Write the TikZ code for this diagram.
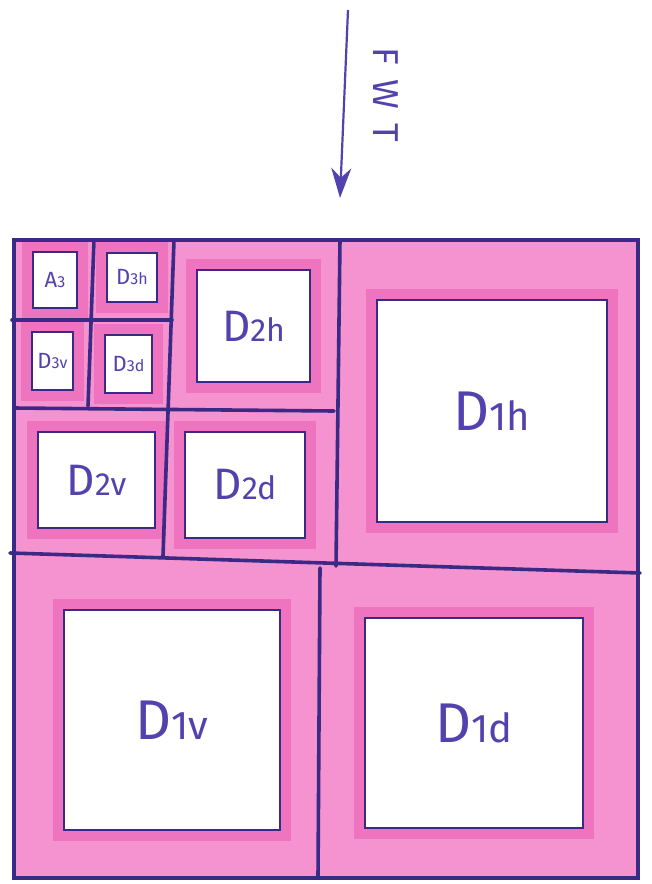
\documentclass[tikz,border=0pt]{standalone}
\usepackage{fontspec}
\setmainfont{Fira Sans}
\usepackage{xcolor}
\usetikzlibrary{arrows.meta}
\definecolor{ink}{HTML}{3A2A86}
\definecolor{pen}{HTML}{5242AE}
\definecolor{marker}{HTML}{F592D0}
\definecolor{darkmarker}{HTML}{EE74BF}

\begin{document}
\begin{tikzpicture}[x=1pt, y=-1pt,
  grid/.style={draw=ink, line width=3.6pt, line cap=round},
  coef/.style={draw=ink, fill=white, line width=2.8pt, inner sep=0pt, text=pen,
    preaction={draw=darkmarker, line width=22pt, rounded corners=6pt}},
  big/.style={coef, font=\fontsize{56}{60}\selectfont},
  mid/.style={coef, font=\fontsize{44}{48}\selectfont},
  tiny/.style={coef, font=\fontsize{22}{24}\selectfont},
  arr/.style={-{Stealth[length=30pt, width=20pt]}, draw=pen, line width=2.2pt}
]
\useasboundingbox (0,0) rectangle (651,884);

% whole image plane
\fill[marker] (14,240) rectangle (638,878);

% level 1
\node[big, minimum width=230pt, minimum height=222pt] (d1h) at (492,411) {D{\fontsize{40}{44}\selectfont 1h}};
\node[big, minimum width=216pt, minimum height=220pt] (d1v) at (172,720) {D{\fontsize{40}{44}\selectfont 1v}};
\node[big, minimum width=218pt, minimum height=210pt] (d1d) at (474,723) {D{\fontsize{40}{44}\selectfont 1d}};

% level 2
\node[mid, minimum width=113pt, minimum height=112pt] (d2h) at (253.5,326) {D{\fontsize{32}{34}\selectfont 2h}};
\node[mid, minimum width=117pt, minimum height=96pt] (d2v) at (96.5,480) {D{\fontsize{32}{34}\selectfont 2v}};
\node[mid, minimum width=120pt, minimum height=106pt] (d2d) at (245,485) {D{\fontsize{32}{34}\selectfont 2d}};

% level 3
\node[tiny, minimum width=44pt, minimum height=56pt] (a3) at (55,280) {A{\fontsize{16}{18}\selectfont 3}};
\node[tiny, minimum width=50pt, minimum height=49pt] (d3h) at (132,277.5) {D{\fontsize{16}{18}\selectfont 3h}};
\node[tiny, minimum width=41pt, minimum height=58pt] (d3v) at (52.5,361) {D{\fontsize{16}{18}\selectfont 3v}};
\node[tiny, minimum width=47pt, minimum height=58pt] (d3d) at (128.5,364) {D{\fontsize{16}{18}\selectfont 3d}};

% quadrant borders
\draw[grid] (14,240) rectangle (638,878);
\draw[grid] (10,553) -- (640,573);
\draw[grid] (340,240) -- (336,566);
\draw[grid] (320,568) -- (318,878);
\draw[grid] (14,408) -- (334,411);
\draw[grid] (174,240) -- (163,556);
\draw[grid] (12,320) -- (172,320);
\draw[grid] (94,240) -- (88,406);

% transform arrow
\coordinate (fwtstart) at (348,10);
\coordinate (fwtend) at (340,198);
\draw[arr] (fwtstart) -- (fwtend);
\node[text=pen, rotate=-90, font=\fontsize{36}{40}\selectfont] (fwt) at (386,95) {F\hspace{14pt}W\hspace{14pt}T};
\end{tikzpicture}
\end{document}
